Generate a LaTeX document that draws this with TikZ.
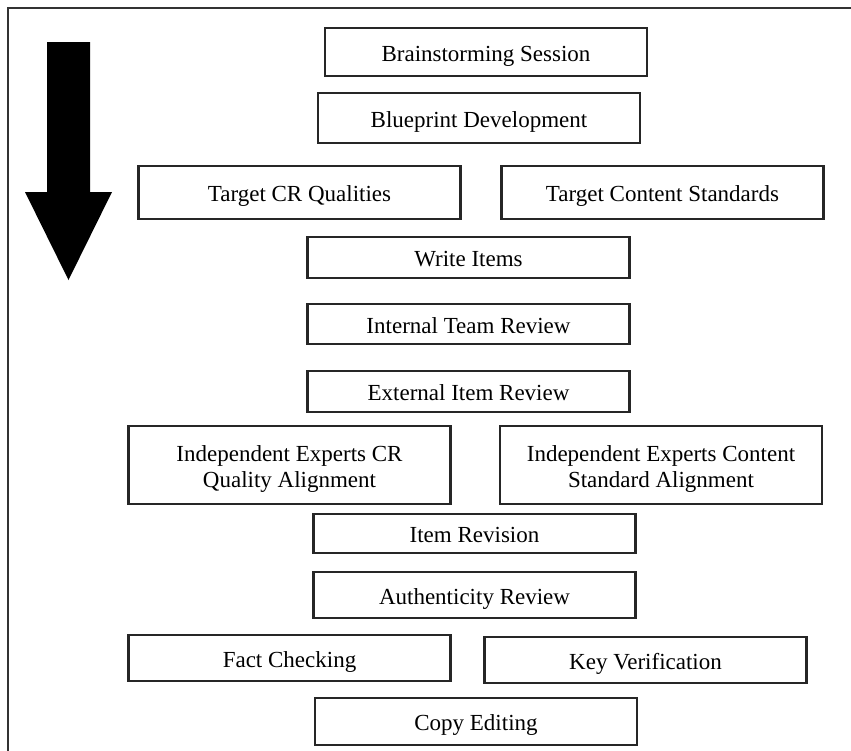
\documentclass[tikz,border=0pt]{standalone}
\usepackage{fontspec}
\setmainfont{Liberation Serif}
\usepackage{tikz}
\usetikzlibrary{positioning}
\tikzset{
stage/.style={draw=black!85,line width=2.2pt,minimum width=322pt,inner sep=0pt,
font=\fontsize{23}{26}\selectfont,align=center,text height=18pt,text depth=0pt},
stagetwo/.style={stage,text height=44pt,text depth=0pt},
frameline/.style={draw=black!80,line width=2pt},
flowarrow/.style={fill=black}
}

\begin{document}
\begin{tikzpicture}[x=1pt,y=-1pt]
\useasboundingbox (0,0) rectangle (851,750);
\draw[frameline] (8,751) -- (8,8) -- (852,8);
% big downward arrow at the left
\fill[flowarrow] (47,42) -- (90,42) -- (90,192) -- (112,192) -- (68.5,280)
  -- (25,192) -- (47,192) -- cycle;
\node[stage,minimum height=48pt] (brain) at (486,52) {Brainstorming Session};
\node[stage,minimum height=50pt] (blueprint) at (479,118) {Blueprint Development};
\node[stage,minimum height=53pt] (tcr) at (299.5,192.5) {Target CR Qualities};
\node[stage,minimum height=53pt] (tcs) at (662.5,192.5) {Target Content Standards};
\node[stage,minimum height=41pt] (write) at (468.5,257.5) {Write Items};
\node[stage,minimum height=40pt] (internal) at (468.5,324) {Internal Team Review};
\node[stage,minimum height=41pt] (external) at (468.5,391.5) {External Item Review};
\node[stagetwo,minimum height=78pt] (iecr) at (289.5,465) {Independent Experts CR\\Quality Alignment};
\node[stagetwo,minimum height=78pt] (iecs) at (661,465) {Independent Experts Content\\Standard Alignment};
\node[stage,minimum height=39pt] (revision) at (474.5,533.5) {Item Revision};
\node[stage,minimum height=46pt] (auth) at (474.5,595) {Authenticity Review};
\node[stage,minimum height=46pt] (fact) at (289.5,658) {Fact Checking};
\node[stage,minimum height=46pt] (keyver) at (645.5,660) {Key Verification};
\node[stage,minimum height=47pt] (copyed) at (476,721.5) {Copy Editing};
\end{tikzpicture}
\end{document}
